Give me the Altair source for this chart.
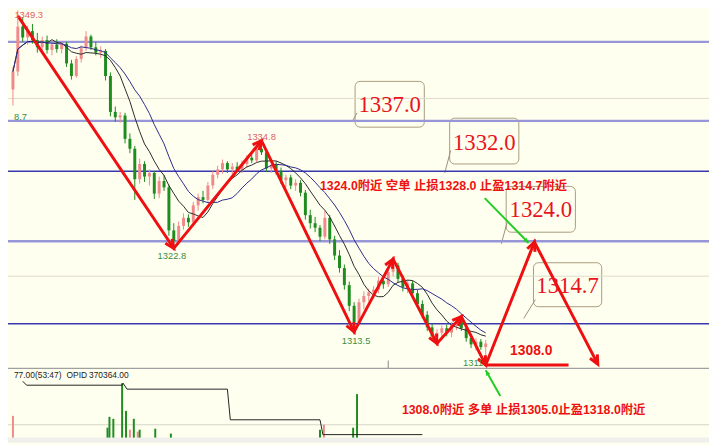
import math
import altair as alt
import pandas as pd

BG = "#FFFFF0"
W, H = 709, 437
X0, X1 = 1.0, 142.8
P_LO, P_HI = 1301.17, 1349.3
V_LO, V_HI = -5.0, 432.0

# ---------------- candles (bar index 1..98) ----------------
opens = [1340.5, 1342.5, 1347.5, 1346.3, 1347.0, 1346.0, 1345.2, 1346.0, 1344.9, 1345.5,
         1345.0, 1345.6, 1343.4, 1342.0, 1343.9, 1345.1, 1346.4, 1345.2, 1344.6, 1344.8,
         1342.0, 1338.0, 1337.4, 1337.6, 1335.0, 1333.9, 1330.5, 1332.2, 1330.8, 1331.2,
         1328.9, 1330.3, 1329.6, 1324.8, 1323.6, 1325.3, 1326.2, 1325.7, 1327.6, 1328.5,
         1328.2, 1329.8, 1331.0, 1331.6, 1332.3, 1331.6, 1331.9, 1331.5, 1332.2, 1332.9,
         1332.6, 1333.9, 1333.5, 1331.7, 1332.1, 1331.4, 1330.4, 1330.7, 1329.8, 1330.1,
         1329.0, 1326.5, 1325.6, 1325.1, 1324.1, 1326.2, 1323.8, 1322.0, 1320.6, 1318.7,
         1316.4, 1314.6, 1316.8, 1317.5, 1317.9, 1318.2, 1319.2, 1318.8, 1320.2, 1320.9,
         1319.4, 1318.5, 1318.9, 1317.8, 1316.6, 1315.4, 1314.0, 1313.0, 1313.4, 1313.9,
         1313.4, 1314.3, 1314.7, 1313.9, 1312.8, 1312.1, 1312.4, 1311.8]
closes = [1342.5, 1347.5, 1346.3, 1347.0, 1346.0, 1345.2, 1346.0, 1344.9, 1345.5, 1345.0,
          1345.6, 1343.4, 1342.0, 1343.9, 1345.1, 1346.4, 1345.2, 1344.6, 1344.8, 1342.0,
          1338.0, 1337.4, 1337.6, 1335.0, 1333.9, 1330.5, 1332.2, 1330.8, 1331.2, 1328.9,
          1330.3, 1329.6, 1324.8, 1323.6, 1325.3, 1326.2, 1325.7, 1327.6, 1328.5, 1328.2,
          1329.8, 1331.0, 1331.6, 1332.3, 1331.6, 1331.9, 1331.5, 1332.2, 1332.9, 1332.6,
          1333.9, 1333.5, 1331.7, 1332.1, 1331.4, 1330.4, 1330.7, 1329.8, 1330.1, 1329.0,
          1326.5, 1325.6, 1325.1, 1324.1, 1326.2, 1323.8, 1322.0, 1320.6, 1318.7, 1316.4,
          1314.6, 1316.8, 1317.5, 1317.9, 1318.2, 1319.2, 1318.8, 1320.2, 1320.9, 1319.4,
          1318.5, 1318.9, 1317.8, 1316.6, 1315.4, 1314.0, 1313.0, 1313.4, 1313.9, 1313.4,
          1314.3, 1314.7, 1313.9, 1312.8, 1312.1, 1312.4, 1311.8, 1312.2]
highs = [1343.0, 1349.3, 1348.5, 1347.6, 1347.8, 1346.8, 1346.4, 1346.5, 1345.9, 1346.1,
         1345.9, 1345.8, 1343.8, 1344.2, 1345.4, 1347.0, 1346.6, 1345.8, 1345.3, 1345.0,
         1342.4, 1338.6, 1338.0, 1337.9, 1335.6, 1334.2, 1332.8, 1332.5, 1331.6, 1331.4,
         1330.8, 1331.0, 1329.9, 1325.6, 1325.8, 1326.7, 1326.6, 1328.0, 1328.9, 1329.2,
         1330.2, 1331.4, 1332.0, 1332.7, 1332.5, 1332.3, 1332.4, 1332.6, 1333.2, 1333.4,
         1334.2, 1334.8, 1333.7, 1332.4, 1332.5, 1331.8, 1331.0, 1331.0, 1330.5, 1330.4,
         1329.3, 1327.1, 1326.3, 1325.4, 1327.0, 1326.5, 1324.2, 1322.6, 1321.0, 1319.1,
         1316.8, 1317.2, 1318.0, 1318.3, 1318.6, 1319.6, 1319.6, 1320.6, 1321.6, 1321.2,
         1319.8, 1319.3, 1319.2, 1318.2, 1317.0, 1315.8, 1314.4, 1313.8, 1314.2, 1314.3,
         1314.6, 1315.0, 1315.2, 1314.3, 1313.2, 1312.8, 1312.7, 1312.6]
lows = [1338.7, 1342.0, 1345.8, 1345.5, 1345.6, 1344.6, 1344.8, 1344.5, 1344.3, 1344.6,
        1344.5, 1343.0, 1341.6, 1341.8, 1343.5, 1344.8, 1344.9, 1344.3, 1344.0, 1341.5,
        1337.5, 1336.9, 1336.8, 1334.5, 1333.4, 1328.2, 1330.0, 1330.2, 1329.8, 1328.3,
        1328.4, 1329.2, 1324.2, 1322.8, 1323.2, 1324.9, 1325.2, 1325.5, 1327.0, 1327.8,
        1327.9, 1329.4, 1330.6, 1331.1, 1331.2, 1331.0, 1331.3, 1331.2, 1331.8, 1332.3,
        1332.4, 1333.2, 1331.3, 1331.2, 1331.0, 1330.0, 1329.6, 1329.4, 1329.2, 1328.6,
        1326.0, 1325.0, 1324.6, 1323.6, 1323.8, 1323.3, 1321.5, 1320.1, 1318.2, 1315.8,
        1313.5, 1314.2, 1316.0, 1316.9, 1317.2, 1317.8, 1318.3, 1318.5, 1319.7, 1319.0,
        1318.0, 1317.8, 1317.4, 1316.2, 1315.0, 1313.6, 1312.6, 1312.2, 1312.8, 1313.0,
        1312.9, 1313.7, 1313.6, 1312.4, 1311.7, 1311.4, 1311.5, 1310.8]
bar_idx = list(range(1, 99))

# ---------------- horizontal levels ----------------
level_light = [1345.8, 1337.0, 1323.6]
level_dark = [1331.4, 1314.4]
level_faint = [1339.5, 1319.7]

# ---------------- zigzag & projection ----------------
zz_i = [2, 34, 52, 71, 79, 88, 93, 98]
zz_p = [1348.7, 1322.8, 1334.8, 1313.5, 1321.6, 1312.2, 1315.2, 1309.8]
proj_i = [98, 108, 121]
proj_p = [1309.8, 1323.5, 1309.9]
flat_i = [98, 115]
flat_p = [1309.8, 1309.8]

# swing labels
sw_text = ["1334.8", "1322.8", "1313.5", "1311", "1349.3", "8.7"]
sw_i = [52.0, 33.6, 71.4, 95.4, 1.3, 1.2]
sw_p = [1335.2, 1321.9, 1312.5, 1310.0, 1348.75, 1337.4]
sw_col = ["#e06060", "#3c8c3c", "#3c8c3c", "#3c8c3c", "#e06060", "#3c8c3c"]
sw_align = ["center", "center", "center", "center", "left", "left"]

# callout boxes
box_text = ["1337.0", "1332.0", "1324.0", "1314.7"]
box_i1 = [71.2, 90.6, 102.2, 107.8]
box_i2 = [85.4, 104.8, 116.4, 121.8]
box_p1 = [1341.4, 1337.3, 1329.7, 1321.2]
box_p2 = [1336.3, 1332.2, 1324.6, 1316.3]
box_ti = [78.3, 97.7, 109.3, 114.8]
box_tp = [1338.8, 1334.5, 1327.1, 1318.6]
tail_i1 = [71.6, 90.8, 102.4, 108.2]
tail_p1 = [1337.9, 1333.7, 1325.7, 1317.1]
tail_i2 = [70.8, 89.6, 101.2, 105.8]
tail_p2 = [1337.1, 1331.2, 1323.3, 1315.0]

short_note = "1324.0附近 空单 止损1328.0 止盈1314.7附近"
long_note = "1308.0附近 多单 止损1305.0止盈1318.0附近"

# green arrows (main panel uses price, lower panel uses volume units)
g1_i = [97.8, 106.8]
g1_p = [1328.4, 1323.4]
g2_i = [101.0, 98.0]
g2_v = [42.0, 68.0]

# ---------------- lower panel ----------------
vol_i = [1.0, 20.4, 20.8, 21.6, 23.4, 24.2, 25.0, 25.8, 26.6, 27.0, 30.2, 33.4, 64.0, 64.8, 70.8, 71.6]
vol_v = [22, 10, 21, 19, 55, 27, 8, 19, 6, 8, 9, 4, 8, 13, 10, 44]
vol_dir = ["up", "down", "down", "down", "down", "down", "up", "down", "up", "down",
           "down", "down", "down", "up", "down", "down"]
opid_i = [3.0, 3.8, 23.4, 23.6, 24.4, 45.0, 45.6, 64.0, 64.6, 85.0]
opid_v = [57, 53, 53, 55, 49, 49, 18, 18, 3, 3]
hdr_text = ["77.00(53:47)", "OPID", "370364.00"]
hdr_i = [1.2, 12.0, 16.6]

# ---------------- helpers ----------------
def px(i):
    return (i - X0) / (X1 - X0) * W

def py(p):
    return (P_HI - p) / (P_HI - P_LO) * H

def vy(v):
    return (V_HI - v) / (V_HI - V_LO) * H

def heading(xa, ya, xb, yb):
    return math.degrees(math.atan2(xb - xa, -(yb - ya))) % 360

xs = alt.Scale(domain=[X0, X1], nice=False, zero=False)
ps = alt.Scale(domain=[P_LO, P_HI], nice=False, zero=False)
vs = alt.Scale(domain=[V_LO, V_HI], nice=False, zero=False)
cs = alt.Scale(domain=["up", "down"], range=["#f08a8a", "#1e8c1e"])

def X(f="i"):
    return alt.X(f"{f}:Q", scale=xs, axis=None)

def YP(f="p"):
    return alt.Y(f"{f}:Q", scale=ps, axis=None)

def YV(f="v"):
    return alt.Y(f"{f}:Q", scale=vs, axis=None)

candles = pd.DataFrame({"i": bar_idx, "open": opens, "high": highs, "low": lows, "close": closes})
base = alt.Chart(candles).transform_calculate(dir="datum.close >= datum.open ? 'up' : 'down'")

wicks = base.mark_rule(strokeWidth=1).encode(
    x=X(), y=YP("low"), y2="high:Q", color=alt.Color("dir:N", scale=cs, legend=None))
bodies = base.mark_bar(size=3).encode(
    x=X(), y=YP("open"), y2="close:Q", color=alt.Color("dir:N", scale=cs, legend=None))
ma_short = base.transform_window(ma="mean(close)", frame=[-7, 0], sort=[alt.SortField("i")]).mark_line(
    color="#2a2a2a", strokeWidth=1).encode(x=X(), y=YP("ma"))
ma_long = base.transform_window(ma="mean(close)", frame=[-13, 0], sort=[alt.SortField("i")]).mark_line(
    color="#2b2b8a", strokeWidth=1).encode(x=X(), y=YP("ma"))

lv_light = alt.Chart(pd.DataFrame({"p": level_light})).mark_rule(color="#9696d8", strokeWidth=2.5).encode(y=YP())
lv_dark = alt.Chart(pd.DataFrame({"p": level_dark})).mark_rule(color="#3838b0", strokeWidth=1.5).encode(y=YP())
lv_faint = alt.Chart(pd.DataFrame({"p": level_faint})).mark_rule(color="#dcdcc8", strokeWidth=1).encode(y=YP())

boxes_df = pd.DataFrame({"i1": box_i1, "i2": box_i2, "p1": box_p1, "p2": box_p2,
                         "ti": box_ti, "tp": box_tp, "t": box_text,
                         "a1": tail_i1, "b1": tail_p1, "a2": tail_i2, "b2": tail_p2})
boxes = alt.Chart(boxes_df).mark_rect(fill=BG, stroke="#a89c7c", strokeWidth=1, cornerRadius=5).encode(
    x=X("i1"), x2="i2:Q", y=YP("p1"), y2="p2:Q")
tails = alt.Chart(boxes_df).mark_rule(color="#9c9078", strokeWidth=1).encode(
    x=X("a1"), x2="a2:Q", y=YP("b1"), y2="b2:Q")
box_txt = alt.Chart(boxes_df).mark_text(font="Liberation Serif", fontSize=23, color="#e8141e").encode(
    x=X("ti"), y=YP("tp"), text="t:N")

zz_df = pd.DataFrame({"i": zz_i, "p": zz_p, "s": range(len(zz_i))})
zigzag = alt.Chart(zz_df).mark_line(color="#ee1010", strokeWidth=3).encode(x=X(), y=YP(), order="s:Q")
proj_df = pd.DataFrame({"i": proj_i, "p": proj_p, "s": range(len(proj_i))})
proj = alt.Chart(proj_df).mark_line(color="#ee1010", strokeWidth=3).encode(x=X(), y=YP(), order="s:Q")
flat = alt.Chart(pd.DataFrame({"i": flat_i, "p": flat_p})).mark_line(color="#ee1010", strokeWidth=3).encode(x=X(), y=YP())

heads = []
for si, sp in ((zz_i, zz_p), (proj_i, proj_p)):
    for k in range(1, len(si)):
        heads.append({"i": si[k], "p": sp[k],
                      "ang": heading(px(si[k - 1]), py(sp[k - 1]), px(si[k]), py(sp[k]))})
heads_df = pd.DataFrame(heads)
red_heads = alt.Chart(heads_df).mark_point(
    shape="M-0.7,1.5L0,0L0.7,1.5", filled=False, color="#ee1010", strokeWidth=3, size=144, opacity=1
).encode(x=X(), y=YP(), angle=alt.Angle("ang:Q", scale=None))

g1_df = pd.DataFrame({"i": g1_i, "p": g1_p})
g1_line = alt.Chart(g1_df).mark_line(color="#22cc22", strokeWidth=2).encode(x=X(), y=YP())
g1_head = alt.Chart(pd.DataFrame([{"i": g1_i[1], "p": g1_p[1],
                                   "ang": heading(px(g1_i[0]), py(g1_p[0]), px(g1_i[1]), py(g1_p[1]))}])).mark_point(
    shape="M-0.6,1.3L0,0L0.6,1.3Z", filled=True, color="#22cc22", size=64, opacity=1
).encode(x=X(), y=YP(), angle=alt.Angle("ang:Q", scale=None))

sw_df = pd.DataFrame({"i": sw_i, "p": sw_p, "t": sw_text, "c": sw_col, "a": sw_align})
sw_layers = []
for al in ("center", "left"):
    sub = sw_df[sw_df["a"] == al]
    sw_layers.append(alt.Chart(sub).mark_text(font="Liberation Sans", fontSize=9.5,
                                              align=al, baseline="middle").encode(
        x=X(), y=YP(), text="t:N", color=alt.Color("c:N", scale=None)))

note_short = alt.Chart(pd.DataFrame({"i": [64.0], "p": [1329.7], "t": [short_note]})).mark_text(
    font="Liberation Sans, Noto Sans CJK SC", fontSize=12.5, fontWeight="bold", color="#ee1111",
    align="left", baseline="middle").encode(x=X(), y=YP(), text="t:N")
lbl_1308 = alt.Chart(pd.DataFrame({"i": [103.0], "p": [1311.4], "t": ["1308.0"]})).mark_text(
    font="Liberation Sans", fontSize=14, fontWeight="bold", color="#ee1111",
    align="left", baseline="middle").encode(x=X(), y=YP(), text="t:N")
vtick = alt.Chart(pd.DataFrame({"i": [78.0], "p": [1310.3], "p2": [1309.4]})).mark_rule(
    color="#888888", strokeWidth=1).encode(x=X(), y=YP(), y2="p2:Q")

main = alt.layer(boxes, tails, lv_faint, lv_light, lv_dark, wicks, bodies, ma_short, ma_long,
                 zigzag, flat, proj, red_heads, g1_line, g1_head, box_txt, *sw_layers,
                 note_short, lbl_1308, vtick)

# ---------------- lower panel layers ----------------
sep = alt.Chart(pd.DataFrame({"v": [70.0]})).mark_rule(color="#a0a0a0", strokeWidth=1.5).encode(y=YV())
grid_low = alt.Chart(pd.DataFrame({"v": [13.0]})).mark_rule(color="#d6d6c6", strokeWidth=1).encode(y=YV())
band = alt.Chart(pd.DataFrame({"v": [0.0], "v2": [V_LO]})).mark_rect(color="#efefec").encode(
    x=alt.value(0), x2=alt.value(W), y=YV(), y2="v2:Q")
vol = alt.Chart(pd.DataFrame({"i": vol_i, "v": vol_v, "z": [0] * len(vol_i), "dir": vol_dir})).mark_bar(size=2).encode(
    x=X(), y=YV("z"), y2="v:Q", color=alt.Color("dir:N", scale=cs, legend=None))
opid = alt.Chart(pd.DataFrame({"i": opid_i, "v": opid_v, "s": range(len(opid_i))})).mark_line(
    color="#222222", strokeWidth=1).encode(x=X(), y=YV(), order="s:Q")
hdr = alt.Chart(pd.DataFrame({"i": hdr_i, "v": [63.0] * 3, "t": hdr_text})).mark_text(
    font="Liberation Sans", fontSize=8.5, color="#222222", align="left",
    baseline="middle").encode(x=X(), y=YV(), text="t:N")
g2_df = pd.DataFrame({"i": g2_i, "v": g2_v})
g2_line = alt.Chart(g2_df).mark_line(color="#22cc22", strokeWidth=2).encode(x=X(), y=YV())
g2_head = alt.Chart(pd.DataFrame([{"i": g2_i[1], "v": g2_v[1],
                                   "ang": heading(px(g2_i[0]), vy(g2_v[0]), px(g2_i[1]), vy(g2_v[1]))}])).mark_point(
    shape="M-0.6,1.3L0,0L0.6,1.3Z", filled=True, color="#22cc22", size=64, opacity=1
).encode(x=X(), y=YV(), angle=alt.Angle("ang:Q", scale=None))
note_long = alt.Chart(pd.DataFrame({"i": [80.8], "v": [28.0], "t": [long_note]})).mark_text(
    font="Liberation Sans, Noto Sans CJK SC", fontSize=12.5, fontWeight="bold", color="#ee1111",
    align="left", baseline="middle").encode(x=X(), y=YV(), text="t:N")

lower = alt.layer(band, grid_low, sep, vol, opid, hdr, g2_line, g2_head, note_long)

chart = alt.layer(main, lower).resolve_scale(y="independent").properties(
    width=W, height=H, autosize=alt.AutoSizeParams(type="none"), padding=0, background=BG
).configure_view(stroke=None)

chart.save("out.html", embed_options={"renderer": "svg", "actions": False})
